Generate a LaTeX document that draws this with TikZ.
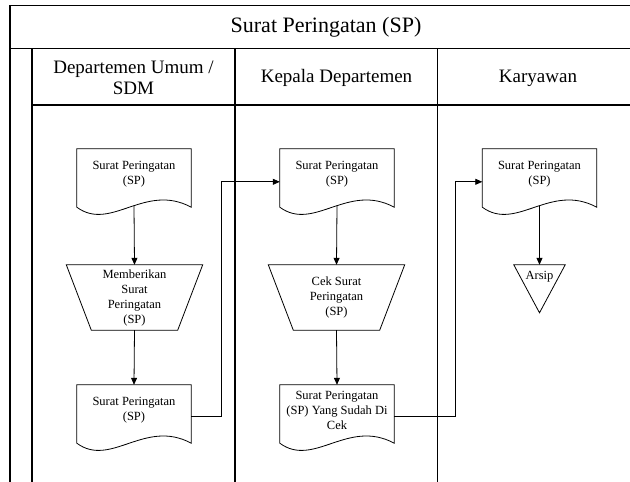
\documentclass[tikz,border=0pt]{standalone}
\usepackage{fontspec}
\setmainfont{Liberation Serif}
\usetikzlibrary{arrows.meta,calc}
\begin{document}
\begin{tikzpicture}[x=1pt,y=-1pt,
  frame/.style={line width=1.2pt,black},
  shp/.style={line width=0.8pt},
  conn/.style={line width=0.8pt,-{Triangle[length=7pt,width=6pt]}},
  doctext/.style={font=\fontsize{12.5}{15}\selectfont, align=center, inner sep=0pt},
  docbox/.style={doctext, minimum width=114pt, minimum height=50pt},
  trapbox/.style={doctext, minimum width=86pt, minimum height=65pt},
  arsipbox/.style={doctext, minimum width=51pt, minimum height=24pt},
  titletext/.style={font=\fontsize{22}{26}\selectfont, inner sep=0pt},
  headtext/.style={font=\fontsize{19}{21}\selectfont, align=center, inner sep=0pt}]
\useasboundingbox (0,0) rectangle (630,482);
% frame
\draw[frame] (10,482) -- (10,5.5) -- (632,5.5);
\draw[frame] (10,48.5) -- (632,48.5);
\draw[frame] (32,48.5) -- (32,482);
\draw[frame] (32,105) -- (632,105);
\draw[frame] (235,48.5) -- (235,482);
\draw[frame] (437.5,48.5) -- (437.5,482);
% texts
\node[titletext] (title) at (326,27.5) {Surat Peringatan (SP)};
\node[headtext] (h1) at (133.5,78) {Departemen Umum /\\SDM};
\node[headtext] (h2) at (336.5,78) {Kepala Departemen};
\node[headtext] (h3) at (538,78) {Karyawan};
% nodes
\node[docbox] (d1) at (134,174) {Surat Peringatan\\(SP)};
\node[trapbox] (t1) at (134.5,297.5) {Memberikan\\Surat\\Peringatan\\(SP)};
\node[docbox] (d2) at (134,410) {Surat Peringatan\\(SP)};
\node[docbox] (k1) at (337,174) {Surat Peringatan\\(SP)};
\node[trapbox] (t2) at (336.5,297.5) {Cek Surat\\Peringatan\\(SP)};
\node[docbox] (k2) at (337,410) {Surat Peringatan\\(SP) Yang Sudah Di\\Cek};
\node[docbox] (y1) at (539.5,174) {Surat Peringatan\\(SP)};
\node[arsipbox] (arsip) at (539.5,277) {Arsip};
% document outlines
\foreach \n in {d1,d2,k1,k2,y1}{
  \draw[shp] (\n.north west) -- (\n.north east) -- ($(\n.south east)+(0,8)$)
    .. controls ($(\n.south west)+(68,-17)$) and ($(\n.south west)+(34,33)$) .. ($(\n.south west)+(0,8)$) -- cycle;
}
% trapezoids
\foreach \n in {t1,t2}{
  \draw[shp] ($(\n.north west)+(-25,0)$) -- ($(\n.north east)+(25,0)$) -- (\n.south east) -- (\n.south west) -- cycle;
}
% merge triangle
\draw[shp] (arsip.north west) -- (arsip.north east) -- ($(arsip.north)+(0,48)$) -- cycle;
% connectors
\draw[conn] ($(d1.south)+(0,7)$) -- (t1.north);
\draw[conn] (t1.south) -- (d2.north);
\draw[conn] ($(k1.south)+(0,7)$) -- (t2.north);
\draw[conn] (t2.south) -- (k2.north);
\draw[conn] ($(y1.south)+(0,7)$) -- (arsip.north);
\coordinate (j1) at (221,0);
\coordinate (j2) at (455,0);
\coordinate (s1) at ($(d2.north east)+(0,32)$);
\coordinate (e1) at ($(k1.north west)+(0,33)$);
\coordinate (s2) at ($(k2.north east)+(0,32)$);
\coordinate (e2) at ($(y1.north west)+(0,33)$);
\draw[conn] (s1) -- (s1 -| j1) -- (e1 -| j1) -- (e1);
\draw[conn] (s2) -- (s2 -| j2) -- (e2 -| j2) -- (e2);
\end{tikzpicture}
\end{document}
